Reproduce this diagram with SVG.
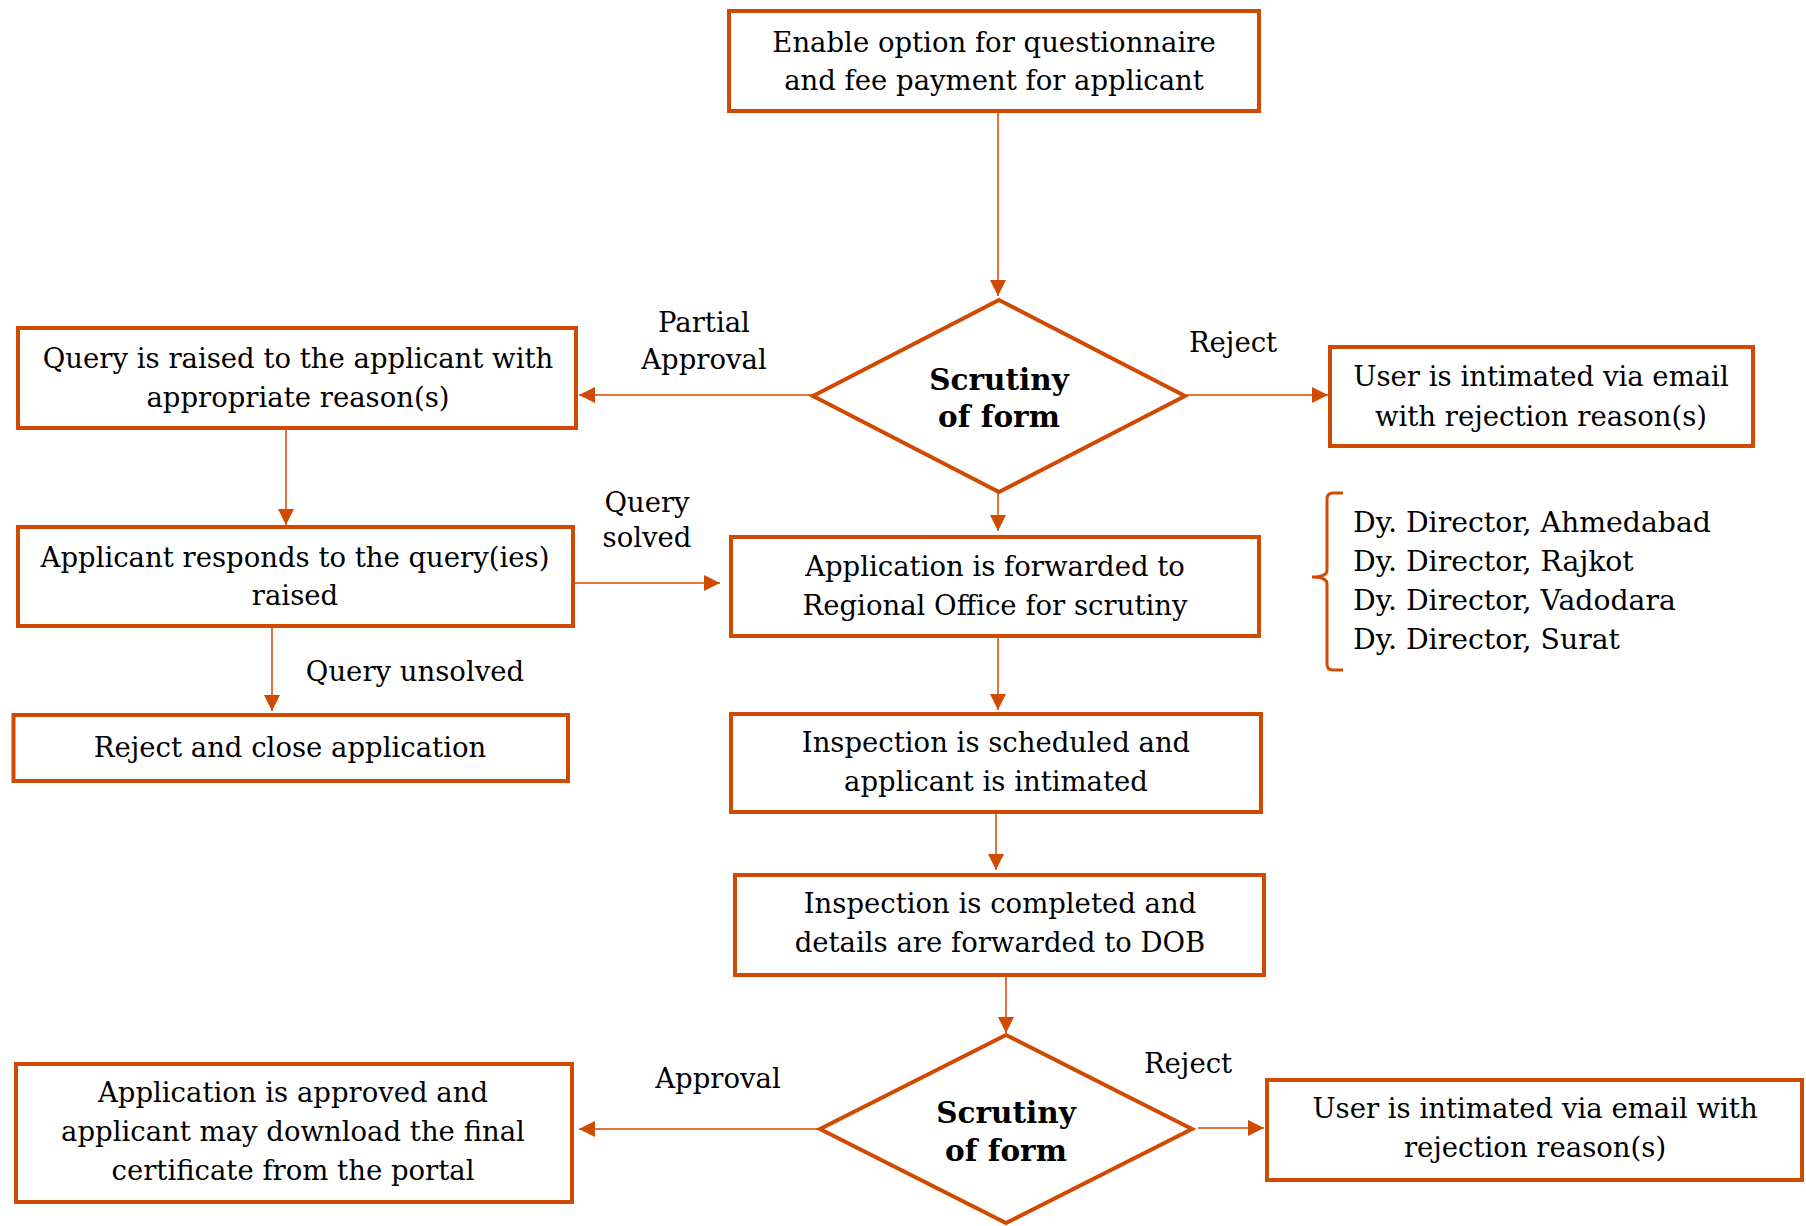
<svg xmlns="http://www.w3.org/2000/svg" width="1806" height="1226" viewBox="0 0 1806 1226">
<defs>
<style>
.box{fill:#fff;stroke:#D04A02;stroke-width:4}
.t{font-family:"DejaVu Serif","Liberation Serif",serif;font-size:27.5px;fill:#000;text-anchor:middle}
.tl{font-family:"DejaVu Serif","Liberation Serif",serif;font-size:28.3px;fill:#000}
.b{font-family:"DejaVu Serif","Liberation Serif",serif;font-size:29.5px;font-weight:bold;fill:#000;text-anchor:middle}
.c{stroke:#E0753C;stroke-width:2;fill:none;marker-end:url(#ah)}
</style>
<marker id="ah" viewBox="0 0 16 16" refX="16" refY="8" markerWidth="16" markerHeight="16" markerUnits="userSpaceOnUse" orient="auto">
<path d="M0,0 L16,8 L0,16 z" fill="#D04A02"/>
</marker>
</defs>
<rect width="1806" height="1226" fill="#fff"/>

<g id="connectors">
<line class="c" x1="998" y1="113" x2="998" y2="296"/>
<line class="c" x1="813" y1="395" x2="579" y2="395"/>
<line class="c" x1="1185" y1="395" x2="1328" y2="395"/>
<line class="c" x1="998" y1="492" x2="998" y2="531"/>
<line class="c" x1="286" y1="430" x2="286" y2="525"/>
<line class="c" x1="575" y1="583" x2="720" y2="583"/>
<line class="c" x1="272" y1="628" x2="272" y2="711"/>
<line class="c" x1="998" y1="638" x2="998" y2="710"/>
<line class="c" x1="996" y1="814" x2="996" y2="870"/>
<line class="c" x1="1006" y1="977" x2="1006" y2="1033"/>
<line class="c" x1="820" y1="1129" x2="579" y2="1129"/>
<line class="c" x1="1198" y1="1128" x2="1264" y2="1128"/>
</g>

<g id="labels">
<text class="t" x="704" y="332">Partial</text>
<text class="t" x="704" y="369">Approval</text>
<text class="t" x="1233" y="352">Reject</text>
<text class="t" x="647" y="512">Query</text>
<text class="t" x="647" y="547">solved</text>
<text class="t" x="415" y="681">Query unsolved</text>
<text class="t" x="718" y="1088">Approval</text>
<text class="t" x="1188" y="1073">Reject</text>
</g>

<g id="n-enable">
<rect class="box" x="729" y="11" width="530" height="100"/>
<text class="t" x="994" y="52">Enable option for questionnaire</text>
<text class="t" x="994" y="90">and fee payment for applicant</text>
</g>

<g id="n-scrutiny1">
<polygon class="box" points="999,300 1185,396 999,492 813,396"/>
<text class="b" x="999" y="390">Scrutiny</text>
<text class="b" x="999" y="427">of form</text>
</g>

<g id="n-query">
<rect class="box" x="18" y="328" width="558" height="100"/>
<text class="t" x="298" y="368">Query is raised to the applicant with</text>
<text class="t" x="298" y="407">appropriate reason(s)</text>
</g>

<g id="n-user1">
<rect class="box" x="1330" y="347" width="423" height="99"/>
<text class="t" x="1541" y="386">User is intimated via email</text>
<text class="t" x="1541" y="426">with rejection reason(s)</text>
</g>

<g id="n-applicant">
<rect class="box" x="18" y="527" width="555" height="99"/>
<text class="t" x="295" y="567">Applicant responds to the query(ies)</text>
<text class="t" x="295" y="605">raised</text>
</g>

<g id="n-forwarded">
<rect class="box" x="731" y="537" width="528" height="99"/>
<text class="t" x="995" y="576">Application is forwarded to</text>
<text class="t" x="995" y="615">Regional Office for scrutiny</text>
</g>

<g id="n-directors">
<path d="M1343,493 L1333,493 Q1327,493 1327,499 L1327,570 Q1327,577 1312,577 Q1327,577 1327,584 L1327,664 Q1327,670 1333,670 L1343,670" fill="none" stroke="#D04A02" stroke-width="3"/>
<text class="tl" x="1353" y="532">Dy. Director, Ahmedabad</text>
<text class="tl" x="1353" y="571">Dy. Director, Rajkot</text>
<text class="tl" x="1353" y="610">Dy. Director, Vadodara</text>
<text class="tl" x="1353" y="649">Dy. Director, Surat</text>
</g>

<g id="n-reject-close">
<rect class="box" x="13.5" y="715" width="554.5" height="66"/>
<text class="t" x="290" y="757">Reject and close application</text>
</g>

<g id="n-inspection-scheduled">
<rect class="box" x="731" y="714" width="530" height="98"/>
<text class="t" x="996" y="752">Inspection is scheduled and</text>
<text class="t" x="996" y="791">applicant is intimated</text>
</g>

<g id="n-inspection-completed">
<rect class="box" x="735" y="875" width="529" height="100"/>
<text class="t" x="1000" y="913">Inspection is completed and</text>
<text class="t" x="1000" y="952">details are forwarded to DOB</text>
</g>

<g id="n-scrutiny2">
<polygon class="box" points="1006,1035 1192,1129 1006,1223 820,1129"/>
<text class="b" x="1006" y="1123">Scrutiny</text>
<text class="b" x="1006" y="1161">of form</text>
</g>

<g id="n-approved">
<rect class="box" x="16" y="1064" width="556" height="138"/>
<text class="t" x="293" y="1102">Application is approved and</text>
<text class="t" x="293" y="1141">applicant may download the final</text>
<text class="t" x="293" y="1180">certificate from the portal</text>
</g>

<g id="n-user2">
<rect class="box" x="1267" y="1080" width="535" height="100"/>
<text class="t" x="1535" y="1118">User is intimated via email with</text>
<text class="t" x="1535" y="1157">rejection reason(s)</text>
</g>
</svg>
